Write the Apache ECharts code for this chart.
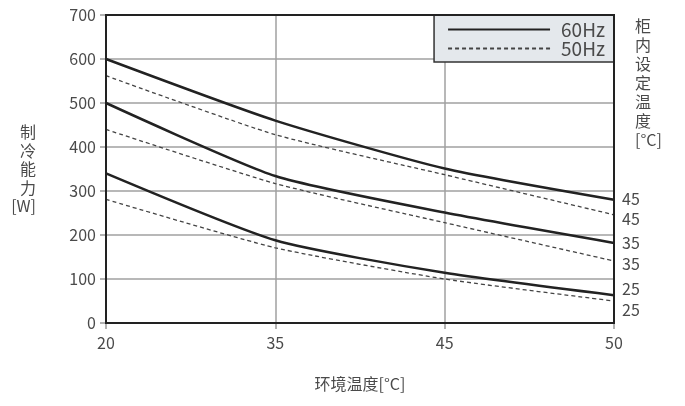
<!DOCTYPE html>
<html>
<head>
<meta charset="utf-8">
<script src="https://cdn.jsdelivr.net/npm/echarts@6/dist/echarts.min.js"></script>
<style>
  html, body { margin: 0; padding: 0; background: #fff; }
  #chart { width: 685px; height: 406px; }
</style>
</head>
<body>
<div id="chart"></div>
<script>
// 环境温度 (x categories, drawn evenly spaced like the source)
var ambientTemps = ['20', '35', '45', '50'];

// 60Hz (solid), by 柜内设定温度
var hz60_45 = [600, 460, 351, 280];
var hz60_35 = [500, 334, 251, 182];
var hz60_25 = [340, 188, 114, 63];

// 50Hz (dashed)
var hz50_45 = [562, 428, 337, 246];
var hz50_35 = [440, 317, 228, 141];
var hz50_25 = [281, 171, 100, 50];

var textColor = '#4a4a4a';
var fontFam = '"Noto Sans CJK SC", "Noto Sans", sans-serif';

function makeLine(name, data, dashed, label, dy) {
    var col = dashed ? '#444' : '#222';
    return {
        name: name,
        type: 'line',
        data: data,
        smooth: 0.2,
        symbol: 'none',
        itemStyle: { color: col },
        lineStyle: dashed
            ? { color: col, width: 1.3, type: [4, 3] }
            : { color: col, width: 2.5 },
        endLabel: {
            show: true,
            formatter: label,
            distance: 8,
            offset: [0, dy],
            color: textColor,
            fontSize: 16,
            fontFamily: fontFam
        },
        z: dashed ? 3 : 4
    };
}

var chart = echarts.init(document.getElementById('chart'));
var option = {
    animation: false,
    textStyle: { fontFamily: fontFam },
    grid: {
        left: 106, right: 71, top: 15, bottom: 83,
        show: true, borderColor: '#222', borderWidth: 2, z: 5
    },
    legend: {
        right: 71, top: 15,
        orient: 'vertical',
        itemWidth: 102,
        itemHeight: 8,
        itemGap: 0,
        padding: [5, 9, 4, 13],
        backgroundColor: '#e4e8ec',
        borderColor: '#333',
        borderWidth: 1.5,
        itemStyle: { opacity: 0 },
        textStyle: { color: textColor, fontSize: 19, fontFamily: fontFam, padding: [0, 0, 0, 6] },
        data: ['60Hz', '50Hz']
    },
    xAxis: {
        type: 'category',
        data: ambientTemps,
        boundaryGap: false,
        name: '环境温度[°C]',
        nameLocation: 'middle',
        nameGap: 53,
        nameTextStyle: { color: textColor, fontSize: 16 },
        axisLine: { lineStyle: { color: '#222', width: 2 } },
        axisTick: { length: 6, lineStyle: { color: '#999', width: 1.5 } },
        axisLabel: { color: textColor, fontSize: 16, margin: 12 },
        splitLine: { show: true, lineStyle: { color: '#a0a0a0', width: 1.5 } }
    },
    yAxis: {
        type: 'value',
        min: 0, max: 700, interval: 100,
        name: '制\n冷\n能\n力\n[W]',
        nameLocation: 'middle',
        nameRotate: 0,
        nameGap: 70,
        nameTextStyle: { color: textColor, fontSize: 16, lineHeight: 18.5 },
        axisLine: { show: true, lineStyle: { color: '#222', width: 2 } },
        axisTick: { show: true, length: 6, lineStyle: { color: '#999', width: 1.5 } },
        axisLabel: { color: textColor, fontSize: 16, margin: 10 },
        splitLine: { show: true, lineStyle: { color: '#a0a0a0', width: 1.5 } }
    },
    graphic: [{
        type: 'text',
        left: 635,
        top: 16,
        style: {
            text: '柜\n内\n设\n定\n温\n度\n[°C]',
            fill: textColor,
            font: '16px ' + fontFam,
            lineHeight: 19,
            align: 'center'
        }
    }],
    series: [
        makeLine('60Hz', hz60_45, false, '45', -1),
        makeLine('60Hz', hz60_35, false, '35', 0),
        makeLine('60Hz', hz60_25, false, '25', -6),
        makeLine('50Hz', hz50_45, true, '45', 4),
        makeLine('50Hz', hz50_35, true, '35', 3),
        makeLine('50Hz', hz50_25, true, '25', 9)
    ]
};
chart.setOption(option);
</script>
</body>
</html>
